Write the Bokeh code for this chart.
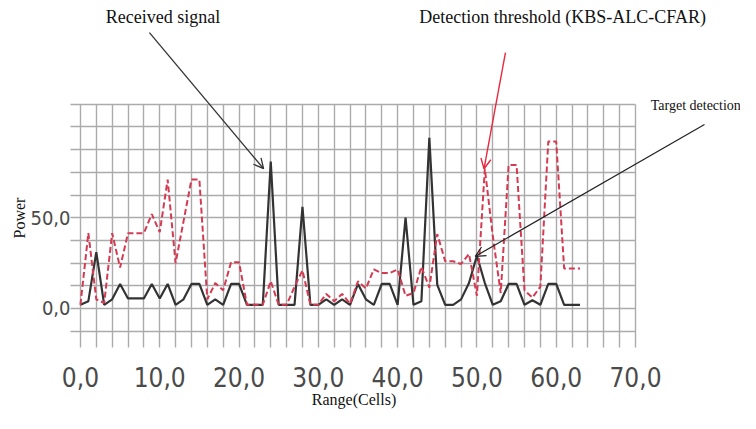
from bokeh.plotting import figure
from bokeh.models import Range1d, FixedTicker, Label, Arrow, OpenHead
from bokeh.embed import file_html
from bokeh.resources import INLINE
import numpy as np

# ---- data ----
cells = list(range(64))
received_signal = [2, 4, 31, 2, 5, 13.5, 5.5, 5.5, 5.5, 13.5,
                   5.5, 13.5, 2, 5, 13.5, 13.5, 2, 5, 2, 13.5,
                   13.5, 2, 2, 2, 81, 2, 2, 2, 56, 2,
                   2, 5, 2, 5, 2, 13.5, 5, 2, 13.5, 13.5,
                   2, 50, 2, 4, 94, 13, 2, 2, 5, 14,
                   29, 14, 2, 4, 13.5, 13.5, 2, 4.5, 2, 13.5,
                   13.5, 2, 2, 2]
threshold = [2, 41.5, 5, 3, 41.5, 22.5, 41.5, 41.5, 41.5, 52,
             42, 71, 25, 48, 71, 71, 5, 14, 10, 25.5,
             25.5, 2, 2, 2, 15, 2, 2, 12, 21, 2,
             2, 8, 4, 8, 2.5, 15, 11, 21.5, 19.5, 19.5,
             21.5, 7, 8.5, 23, 11.5, 41, 26, 26, 24.5, 30,
             7, 77, 40, 8.5, 79, 79, 10, 6, 12, 92,
             92, 22, 22, 22]
x_tick_values = [0, 10, 20, 30, 40, 50, 60, 70]
x_tick_labels = ["0,0", "10,0", "20,0", "30,0", "40,0", "50,0", "60,0", "70,0"]
y_tick_values = [0, 50]
y_tick_labels = ["0,0", "50,0"]

# chart box (grid extent) in data units
X_MIN, X_MAX = -1.0, 70.0
Y_MIN, Y_MAX = -21.5, 112.5

SERIF = "Liberation Serif"
TICKFONT = "DejaVu Sans Condensed"

p = figure(width=740, height=413, output_backend="svg", toolbar_location=None,
           x_range=Range1d(-10.08, 83.24), y_range=Range1d(-57.9, 169.7),
           min_border_left=0, min_border_right=0, min_border_top=0,
           min_border_bottom=0)
p.outline_line_color = None
p.background_fill_color = "white"
p.border_fill_color = "white"

# grid, limited to the chart box
p.xgrid.ticker = FixedTicker(ticks=list(np.arange(0, 71, 2)))
p.ygrid.ticker = FixedTicker(ticks=list(np.arange(-12.5, 113, 12.5)))
p.xgrid.cross_bounds = (Y_MIN, Y_MAX)
p.ygrid.cross_bounds = (X_MIN - 0.25, X_MAX)
for g in (p.xgrid, p.ygrid):
    g.grid_line_color = "#ababab"
    g.grid_line_width = 1.4

# axes, pinned to the edges of the chart box
p.xaxis.fixed_location = Y_MIN
p.yaxis.fixed_location = X_MIN
p.xaxis.ticker = FixedTicker(ticks=x_tick_values)
p.xaxis.major_label_overrides = {v: l for v, l in zip(x_tick_values, x_tick_labels)}
p.xaxis.bounds = (X_MIN, X_MAX)
p.yaxis.ticker = FixedTicker(ticks=y_tick_values)
p.yaxis.major_label_overrides = {v: l for v, l in zip(y_tick_values, y_tick_labels)}
p.yaxis.bounds = (-12.5, Y_MAX)
for ax in (p.xaxis, p.yaxis):
    ax.axis_line_color = None
    ax.major_tick_line_color = None
    ax.minor_tick_line_color = None
    ax.major_tick_out = 0
    ax.major_tick_in = 0
    ax.minor_tick_out = 0
    ax.major_label_text_font = TICKFONT
    ax.major_label_text_color = "#4a4a4a"
    ax.axis_label_text_font = SERIF
    ax.axis_label_text_font_style = "normal"
    ax.axis_label_text_color = "#111111"
p.xaxis.major_label_text_font_size = "26px"
p.xaxis.major_label_standoff = 20
p.xaxis.axis_label = "Range(Cells)"
p.xaxis.axis_label_text_font_size = "16px"
p.xaxis.axis_label_standoff = 0
p.yaxis.major_label_text_font_size = "20px"
p.yaxis.major_label_standoff = 2
p.yaxis.axis_label = "Power"
p.yaxis.axis_label_text_font_size = "16px"
p.yaxis.axis_label_standoff = -1

# series
p.line(cells, received_signal, line_color="#333333", line_width=2.2)
p.line(cells, threshold, line_color="#d43a52", line_width=2.0, line_dash="6 3")

# annotations
p.add_layout(Label(x=10.4, y=160.5, text="Received signal", text_font=SERIF,
                   text_font_size="18px", text_align="center", text_baseline="middle",
                   text_color="#111111"))
p.add_layout(Label(x=60.8, y=160.5, text="Detection threshold (KBS-ALC-CFAR)", text_font=SERIF,
                   text_font_size="18px", text_align="center", text_baseline="middle",
                   text_color="#111111"))
p.add_layout(Label(x=77.6, y=112, text="Target detection", text_font=SERIF,
                   text_font_size="14px", text_align="center", text_baseline="middle",
                   text_color="#111111"))

p.add_layout(Arrow(x_start=8.7, y_start=152, x_end=23.1, y_end=77,
                   line_color="#333333", line_width=1.3,
                   end=OpenHead(size=10, line_color="#333333", line_width=1.3)))
p.add_layout(Arrow(x_start=53.6, y_start=141, x_end=50.9, y_end=77,
                   line_color="#e8293f", line_width=1.4,
                   end=OpenHead(size=10, line_color="#e8293f", line_width=1.4)))
p.add_layout(Arrow(x_start=78.7, y_start=101.4, x_end=49.8, y_end=28.7,
                   line_color="#222222", line_width=1.2,
                   end=OpenHead(size=10, line_color="#222222", line_width=1.2)))

open("out.html", "w").write(file_html(p, INLINE))
